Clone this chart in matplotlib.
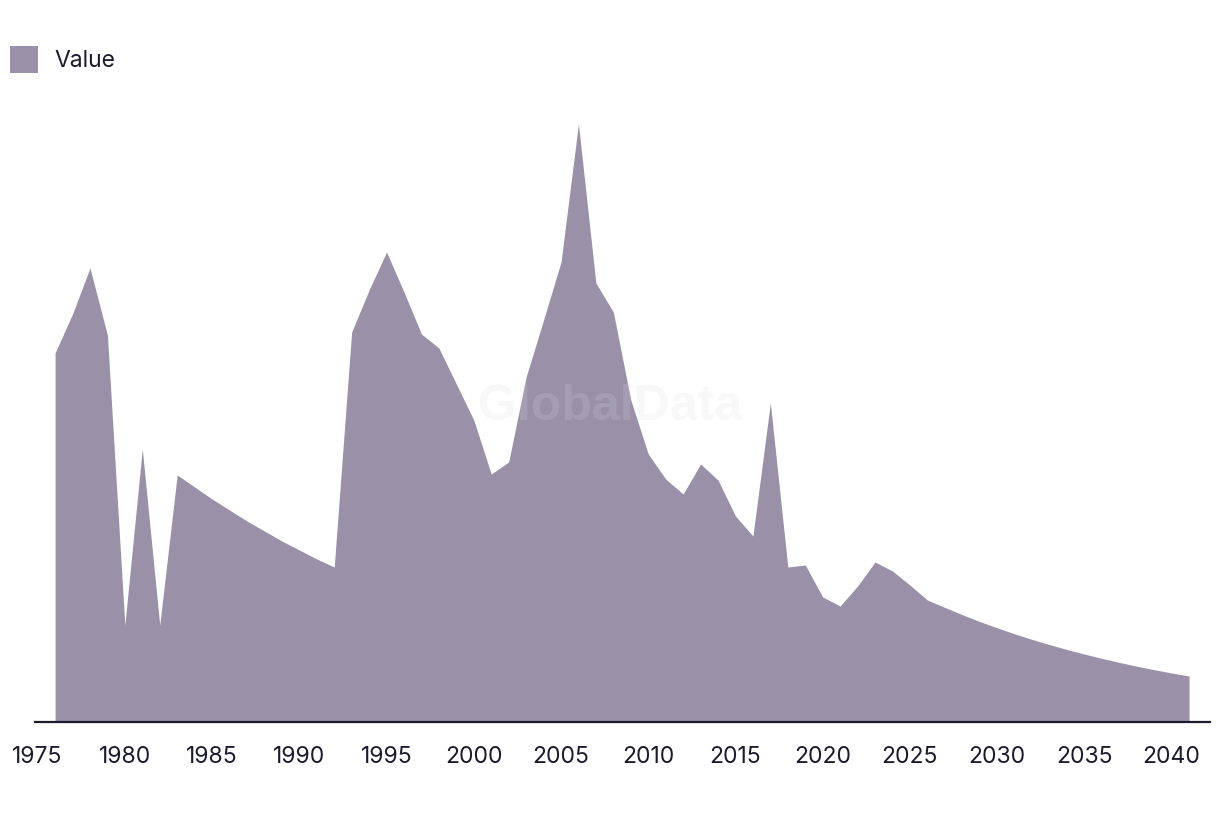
import matplotlib
matplotlib.use("Agg")
import matplotlib.pyplot as plt
from matplotlib.patches import Patch

years = list(range(1976, 2042))
values = [
    369, 408, 454, 387, 97, 273, 97, 247, 235, 223,
    212, 201, 191, 181, 172, 163, 155, 390, 432, 470,
    430, 388, 374, 338, 302, 248, 260, 345, 402, 460,
    598, 439, 410, 322, 268, 243, 228, 258, 242, 206,
    186, 319, 155, 157, 125, 116, 136, 160, 151, 137,
    122, 114.6, 107.3, 100.5, 94.2, 88.2, 82.6, 77.4, 72.5, 67.9,
    63.6, 59.6, 55.8, 52.3, 49, 46,
]
tick_years = list(range(1975, 2045, 5))
series_name = "Value"

fill_color = "#9a91a9"
text_color = "#1c1b2e"

plt.rcParams['font.family'] = ['Inter', 'DejaVu Sans']

W, H = 1220, 816
fig = plt.figure(figsize=(W / 100, H / 100), dpi=100)
ax = fig.add_axes([35 / W, (H - 722) / H, (1210 - 35) / W, (722 - 100) / H])

ax.fill_between(years, values, 0, color=fill_color, lw=0, zorder=2)

ax.set_xlim(1974.85, 2042.2)
ax.set_ylim(0, 622)
ax.set_xticks(tick_years)
ax.set_xticklabels([str(t) for t in tick_years])
ax.tick_params(axis='x', length=0, pad=17, labelsize=16.5, labelcolor=text_color)
ax.set_yticks([])
for s in ['left', 'right', 'top']:
    ax.spines[s].set_visible(False)
ax.spines['bottom'].set_color(text_color)
ax.spines['bottom'].set_linewidth(1.6)
ax.spines['bottom'].set_zorder(3)

fig.text(610 / W, (H - 407) / H, "GlobalData", family=['Liberation Sans', 'DejaVu Sans'],
         fontweight='bold', fontsize=36, color='#dcdcdc', alpha=0.18,
         ha='center', va='center', zorder=5)

handle = Patch(facecolor=fill_color, edgecolor='none')
fig.legend([handle], [series_name], loc='upper left',
           bbox_to_anchor=(10 / W, 1 - 46 / H), bbox_transform=fig.transFigure,
           frameon=False, fontsize=16.5, labelcolor=text_color,
           handlelength=1.2, handleheight=1.44, handletextpad=0.72,
           borderpad=0, borderaxespad=0)

fig.savefig("out.png", dpi=100)
